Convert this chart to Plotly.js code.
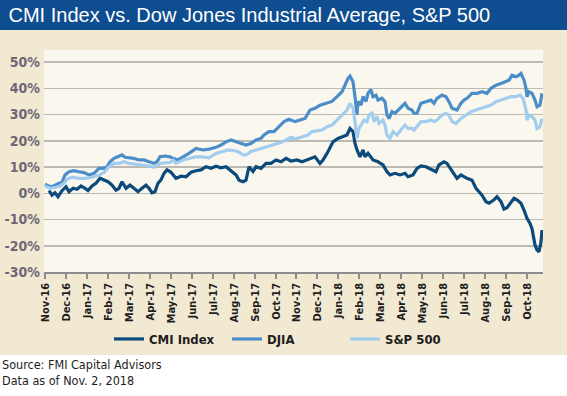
<!DOCTYPE html>
<html>
<head>
<meta charset="utf-8">
<script src="https://cdn.plot.ly/plotly-3.0.1.min.js"></script>
<style>
html,body{margin:0;padding:0;background:#fff;}
#chart{width:567px;height:396px;}
</style>
</head>
<body>
<div id="chart"></div>
<script>
// x = trading day number since Nov 1, 2016; y = cumulative return (%)
const cmiDay = [4,7,10,13,17,21,24,28,32,36,40,43,47,51,55,59,63,67,71,74,77,81,85,89,93,97,101,104,107,110,113,116,119,122,126,131,136,141,146,151,156,161,166,171,176,181,186,191,194,198,201,204,208,211,216,221,226,231,236,241,246,252,257,262,267,270,275,278,282,285,288,293,298,302,305,308,310,312,315,318,320,323,328,333,338,342,345,350,355,360,363,368,372,376,381,384,387,391,394,399,402,406,409,412,416,419,422,427,431,434,437,441,444,449,452,456,459,462,466,469,472,476,479,482,485,487,490,492,494,496,497];
const cmiVal = [1.0,-0.7,0.2,-1.3,1.0,2.5,0.6,1.9,1.5,2.8,1.9,1.0,2.8,3.8,5.7,5.1,4.4,3.1,1.2,1.9,4.4,1.9,3.1,1.9,0.6,1.9,3.1,1.9,0.2,0.6,3.8,5.1,7.6,8.9,8.0,5.7,6.5,6.3,8.0,8.6,8.9,10.1,9.5,10.3,9.7,10.1,8.6,7.0,5.0,4.4,5.0,10.1,8.3,10.1,9.5,11.4,11.4,12.7,12.0,13.3,12.3,12.7,12.0,12.7,13.3,13.9,11.4,12.7,15.2,17.7,19.6,20.9,21.5,22.2,24.7,23.5,19.0,16.5,13.9,16.5,13.9,15.2,12.7,12.0,10.8,8.2,7.0,7.6,7.0,7.6,6.3,7.0,9.5,10.4,10.1,9.5,8.9,8.2,10.8,12.0,11.4,8.9,7.0,5.7,7.0,6.3,5.7,5.0,1.9,0.6,-0.7,-3.2,-3.8,-2.5,-1.3,-3.2,-6.0,-5.5,-3.2,-1.9,-2.5,-3.8,-6.4,-9.5,-11.5,-13.5,-19.7,-21.6,-22.3,-18.5,-14.0];

const djiaDay = [0,4,7,10,14,17,20,24,29,34,39,44,49,54,59,62,65,69,72,77,80,84,89,94,99,104,109,112,115,120,125,128,133,138,144,151,158,164,171,176,181,186,191,196,201,206,211,216,219,224,229,234,239,244,250,255,260,265,270,275,282,287,292,297,300,303,305,308,310,312,313,316,318,321,323,326,328,331,333,337,340,342,344,347,350,353,357,360,363,367,369,372,376,381,386,389,392,397,401,404,407,412,416,419,422,427,432,437,442,446,451,456,461,464,467,471,474,476,479,481,482,484,487,490,492,495,497];
const djiaVal = [3.5,2.7,2.5,3.1,3.8,4.1,7.0,8.2,8.6,8.2,7.9,7.0,7.6,9.5,9.5,10.1,12.0,13.3,13.9,14.6,13.7,13.6,13.3,12.7,12.7,12.0,11.4,12.0,13.9,14.2,13.9,13.3,12.7,13.9,15.2,17.1,16.5,16.8,17.5,18.4,19.6,20.3,19.6,18.8,18.4,19.0,20.3,20.9,22.2,23.5,23.5,25.4,27.3,28.2,27.3,27.9,28.5,31.7,32.4,33.6,34.3,35.0,36.8,38.7,41.2,43.8,44.7,42.5,36.8,30.0,35.0,33.6,36.8,35.0,38.1,39.5,36.8,37.4,35.5,36.2,34.9,29.8,28.5,31.1,30.5,31.7,33.0,34.3,32.4,31.7,30.5,30.5,34.3,34.9,35.5,34.3,36.2,37.4,36.8,34.9,32.4,31.7,34.3,35.5,36.2,38.1,38.1,38.7,38.1,40.0,41.2,41.8,42.5,43.1,45.0,44.4,45.0,45.7,43.1,40.0,36.8,38.7,38.1,35.5,33.0,33.6,38.1];

const spDay = [0,5,10,15,19,22,27,34,40,47,54,59,64,69,74,79,84,89,94,99,104,109,112,115,120,125,128,131,138,144,151,158,164,171,178,183,188,193,198,201,206,211,216,221,226,231,236,241,246,250,252,258,263,267,272,277,282,287,292,297,302,305,308,310,312,314,317,319,322,324,327,329,332,334,338,340,342,345,348,352,357,360,363,367,369,372,376,381,386,389,392,397,401,404,407,411,416,421,426,431,436,441,446,451,456,461,466,471,475,478,481,482,484,487,490,492,495,497];
const spVal = [2.8,1.9,2.2,2.8,3.8,5.3,6.1,5.7,5.7,6.1,7.0,7.9,10.1,11.4,11.4,12.0,11.4,11.2,10.8,10.8,10.4,9.9,10.4,11.4,11.4,11.7,12.7,11.4,12.7,13.3,13.9,13.9,13.5,15.2,15.9,16.5,16.3,15.9,14.6,14.6,15.9,16.5,17.1,17.5,18.4,19.0,19.3,20.3,21.3,20.7,20.9,21.5,22.2,23.5,23.8,24.1,25.4,26.0,27.9,29.8,31.7,34.3,32.4,27.3,20.9,24.7,26.6,27.9,27.3,29.8,30.5,27.3,29.2,26.6,27.9,26.0,22.2,20.9,23.5,22.2,24.7,26.0,24.7,24.7,24.1,25.4,27.3,27.3,27.9,27.3,27.9,29.8,30.5,29.8,27.3,26.6,28.5,29.8,31.1,31.7,32.4,33.0,33.6,34.9,35.5,36.2,36.8,36.8,37.4,36.2,31.7,27.9,29.8,29.2,27.9,24.7,25.4,28.5];

// month-start trading days and labels
const tickDays = [0,21,42,63,84,105,126,147,168,189,210,231,251,272,293,314,335,356,377,398,419,440,461,482];
const tickLabels = ["Nov-16","Dec-16","Jan-17","Feb-17","Mar-17","Apr-17","May-17","Jun-17","Jul-17","Aug-17","Sep-17","Oct-17","Nov-17","Dec-17","Jan-18","Feb-18","Mar-18","Apr-18","May-18","Jun-18","Jul-18","Aug-18","Sep-18","Oct-18"];
const yTicks = [-30,-20,-10,0,10,20,30,40,50];
const yLabels = ["-30%","-20%","-10%","0%","10%","20%","30%","40%","50%"];

const NARROW = "Liberation Sans Narrow, Arial Narrow, DejaVu Sans Condensed, sans-serif";

const traces = [
  {x: cmiDay, y: cmiVal, name: "CMI Index", type: "scatter", mode: "lines",
   line: {color: "#0b4a7a", width: 3.2}},
  {x: djiaDay, y: djiaVal, name: "DJIA", type: "scatter", mode: "lines",
   line: {color: "#4b8dc8", width: 3.2}},
  {x: spDay, y: spVal, name: "S&P 500", type: "scatter", mode: "lines",
   line: {color: "#a2cdee", width: 3.2}}
];

const layout = {
  width: 567, height: 396,
  margin: {l: 44, r: 24, t: 50, b: 124},
  paper_bgcolor: "#f2e9d2",
  plot_bgcolor: "#faf7ef",
  showlegend: true,
  title: {
    text: "CMI Index vs. Dow Jones Industrial Average, S&P 500",
    font: {family: "Liberation Sans, Arial, sans-serif", size: 20, color: "#ffffff"},
    x: 0.015, xanchor: "left", xref: "container",
    y: 0.962, yanchor: "middle", yref: "container"
  },
  xaxis: {
    range: [-1, 498],
    tickmode: "array", tickvals: tickDays, ticktext: tickLabels,
    tickangle: -90,
    tickfont: {family: NARROW, size: 11, color: "#1e1e1e", weight: "bold"},
    showgrid: false, zeroline: false,
    showline: true, linecolor: "#8c8c8c", linewidth: 1.5,
    ticks: "outside", ticklen: 5, tickwidth: 1.2, tickcolor: "#8c8c8c",
    fixedrange: true
  },
  yaxis: {
    range: [-30, 54.6],
    tickmode: "array", tickvals: yTicks, ticktext: yLabels,
    tickfont: {family: NARROW, size: 14, color: "#6d6776", weight: "bold"},
    showgrid: true, gridcolor: "#bdb9b3", gridwidth: 1.5,
    zeroline: false, showline: false, ticks: "",
    ticklabelstandoff: 3,
    fixedrange: true
  },
  legend: {
    orientation: "h",
    x: (109 - 44) / 499, xanchor: "left",
    y: (272 - 339) / 222, yanchor: "middle",
    bgcolor: "rgba(0,0,0,0)",
    font: {family: NARROW, size: 13, color: "#1e1e1e", weight: "bold"},
    itemwidth: 30,
    entrywidth: 73, entrywidthmode: "pixels"
  },
  shapes: [
    {type: "rect", xref: "paper", yref: "paper", x0: -0.2, x1: 1.2, y0: (272-30)/222, y1: 1.4,
     fillcolor: "#0e4d8f", line: {width: 0}, layer: "below"},
    {type: "rect", xref: "paper", yref: "paper", x0: -0.2, x1: 1.2, y0: -0.8, y1: (272-355)/222,
     fillcolor: "#ffffff", line: {width: 0}, layer: "below"}
  ],
  annotations: [
    {text: "Source: FMI Capital Advisors<br>Data as of Nov. 2, 2018",
     xref: "paper", yref: "paper", x: -44/499, y: (272-372)/222,
     xanchor: "left", yanchor: "middle", align: "left", showarrow: false,
     font: {family: NARROW, size: 12.5, color: "#1e1e1e"}}
  ]
};

Plotly.newPlot("chart", traces, layout, {displayModeBar: false, staticPlot: true});
</script>
</body>
</html>
